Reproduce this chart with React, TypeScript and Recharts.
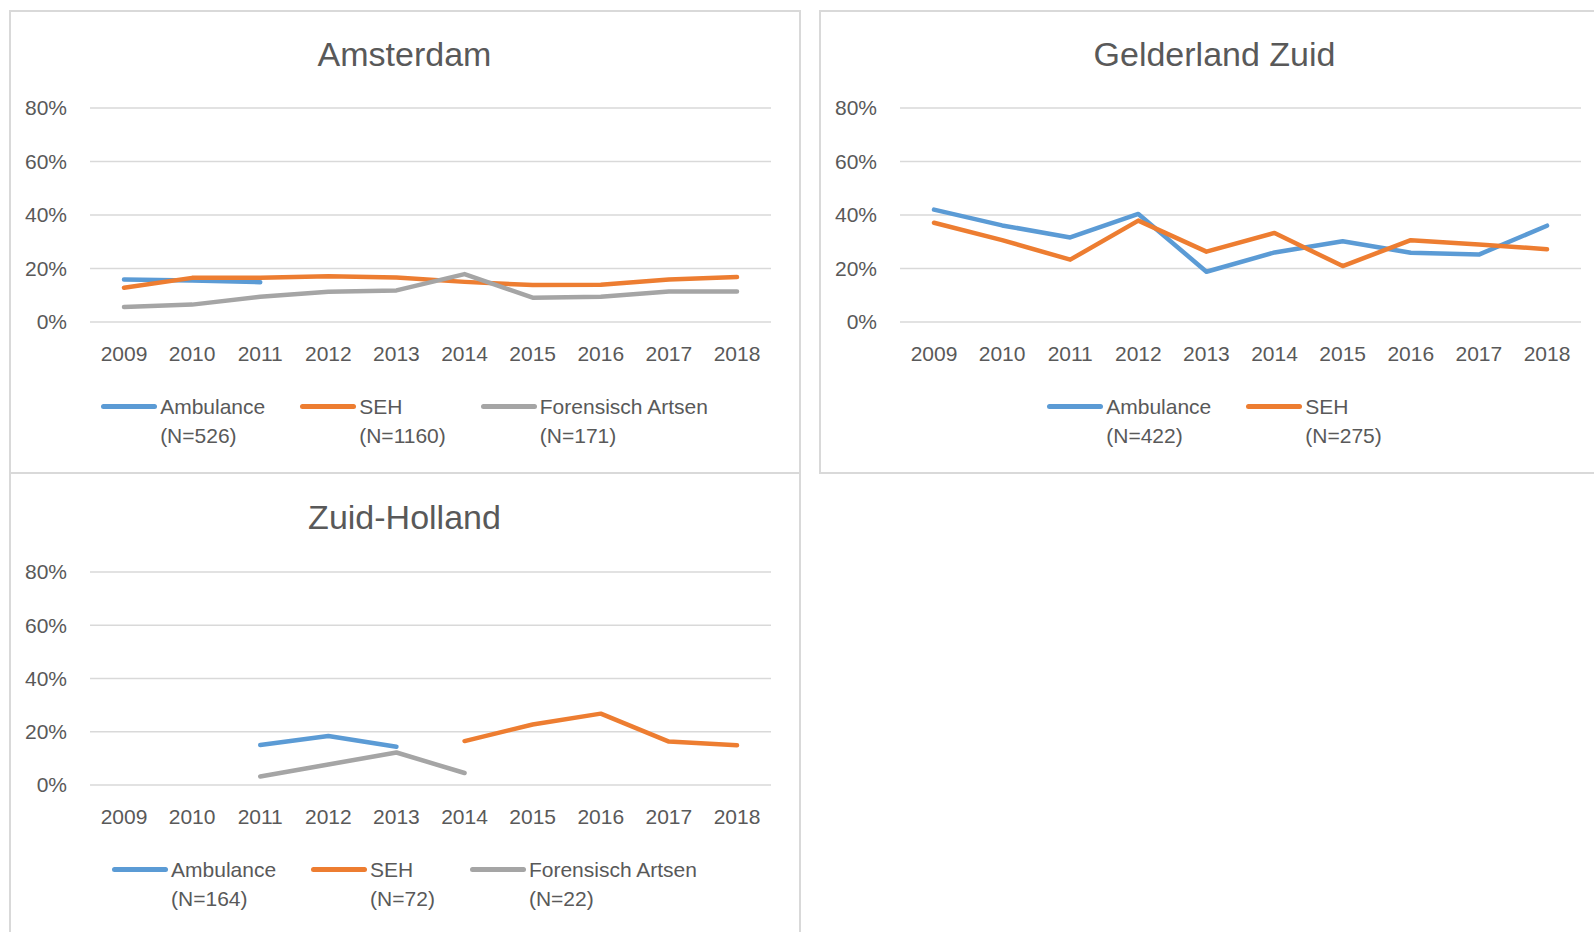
import { LineChart, Line, XAxis, YAxis, CartesianGrid } from 'recharts';

const years = ['2009', '2010', '2011', '2012', '2013', '2014', '2015', '2016', '2017', '2018'];
const yTicks = [0, 20, 40, 60, 80];

const seriesNames = ['Ambulance', 'SEH', 'Forensisch Artsen'];
const seriesColors = ['#5B9BD5', '#ED7D31', '#A5A5A5'];

// Amsterdam (%)
const amsterdamAmbulance = [15.9, 15.5, 14.9, null, null, null, null, null, null, null];
const amsterdamSeh = [12.8, 16.5, 16.5, 17.1, 16.6, 15.0, 13.8, 13.9, 15.9, 16.8];
const amsterdamForensisch = [5.6, 6.5, 9.4, 11.3, 11.8, 17.9, 9.1, 9.4, 11.4, 11.4];
const amsterdamN = [526, 1160, 171];

// Gelderland Zuid (%)
const gelderlandAmbulance = [42.0, 36.1, 31.6, 40.4, 18.8, 26.0, 30.2, 25.9, 25.2, 36.0];
const gelderlandSeh = [37.1, 30.6, 23.3, 37.9, 26.3, 33.3, 20.9, 30.6, 29.0, 27.2];
const gelderlandN = [422, 275];

// Zuid-Holland (%)
const zuidAmbulance = [null, null, 15.0, 18.4, 14.4, null, null, null, null, null];
const zuidSeh = [null, null, null, null, null, 16.5, 22.7, 26.8, 16.3, 14.9];
const zuidForensisch = [null, null, 3.2, 7.7, 12.2, 4.5, null, null, null, null];
const zuidN = [164, 72, 22];

const FONT = '"Liberation Sans", Arial, sans-serif';
const TEXT = '#595959';
const GRID = '#D9D9D9';

type Series = { name: string; n: number; color: string; values: (number | null)[] };

function makeSeries(values: (number | null)[][], ns: number[]): Series[] {
  return values.map((v, i) => ({ name: seriesNames[i], n: ns[i], color: seriesColors[i], values: v }));
}

interface PanelProps {
  x: number;
  y: number;
  w: number;
  h: number;
  title: string;
  series: Series[];
  plotTop: number;
  axisHeight: number;
}

function Panel({ x, y, w, h, title, series, plotTop, axisHeight }: PanelProps) {
  const data = years.map((year, i) => {
    const row: Record<string, string | number | null> = { year };
    series.forEach((s, k) => {
      row['s' + k] = s.values[i];
    });
    return row;
  });

  const tick = { fill: TEXT, fontSize: 21, fontFamily: FONT };

  return (
    <div style={{ position: 'absolute', left: x, top: y, width: w, height: h }}>
      <div
        style={{
          position: 'absolute',
          left: 0,
          top: 24,
          width: w,
          textAlign: 'center',
          fontSize: 34,
          lineHeight: '40px',
          color: TEXT,
          fontFamily: FONT,
        }}
      >
        {title}
      </div>
      <div style={{ position: 'absolute', left: 0, top: 0 }}>
        <LineChart
          width={w}
          height={h}
          data={data}
          margin={{ top: plotTop, right: 29, bottom: 0, left: 1 }}
        >
          <CartesianGrid vertical={false} stroke={GRID} strokeWidth={1.5} />
          <XAxis
            dataKey="year"
            axisLine={false}
            tickLine={false}
            tickSize={0}
            tickMargin={24}
            interval={0}
            padding={{ left: 34, right: 34 }}
            height={axisHeight}
            tick={tick}
          />
          <YAxis
            domain={[0, 80]}
            ticks={yTicks}
            tickFormatter={(v) => `${v}%`}
            axisLine={false}
            tickLine={false}
            tickSize={0}
            tickMargin={23}
            width={80}
            tick={tick}
          />
          {series.map((s, k) => (
            <Line
              key={s.name}
              dataKey={'s' + k}
              name={s.name}
              stroke={s.color}
              strokeWidth={4.5}
              strokeLinecap="round"
              strokeLinejoin="round"
              dot={false}
              activeDot={false}
              isAnimationActive={false}
            />
          ))}
        </LineChart>
      </div>
      <div
        style={{
          position: 'absolute',
          left: 0,
          top: 382,
          width: w,
          display: 'flex',
          justifyContent: 'center',
          gap: 35,
          fontFamily: FONT,
          fontSize: 21,
          lineHeight: '29px',
          color: TEXT,
        }}
      >
        {series.map((s) => (
          <div key={s.name} style={{ display: 'flex', alignItems: 'flex-start' }}>
            <div
              style={{
                width: 56,
                height: 5,
                marginTop: 12,
                borderRadius: 3,
                background: s.color,
              }}
            />
            <div style={{ marginLeft: 3 }}>
              <div>{s.name}</div>
              <div>(N={s.n})</div>
            </div>
          </div>
        ))}
      </div>
    </div>
  );
}

const border = (left: number, top: number, width: number, height: number) => (
  <div
    style={{
      position: 'absolute',
      left,
      top,
      width,
      height,
      boxSizing: 'border-box',
      border: `2px solid ${GRID}`,
    }}
  />
);

export default function App() {
  return (
    <div
      style={{
        position: 'absolute',
        left: 0,
        top: 0,
        width: 1594,
        height: 932,
        overflow: 'hidden',
        background: '#fff',
      }}
    >
      {border(9, 10, 792, 464)}
      {border(819, 10, 792, 464)}
      {border(9, 472, 792, 480)}
      <Panel
        x={9}
        y={10}
        w={791}
        h={463}
        title="Amsterdam"
        series={makeSeries([amsterdamAmbulance, amsterdamSeh, amsterdamForensisch], amsterdamN)}
        plotTop={98}
        axisHeight={151}
      />
      <Panel
        x={819}
        y={10}
        w={791}
        h={463}
        title="Gelderland Zuid"
        series={makeSeries([gelderlandAmbulance, gelderlandSeh], gelderlandN)}
        plotTop={98}
        axisHeight={151}
      />
      <Panel
        x={9}
        y={473}
        w={791}
        h={459}
        title="Zuid-Holland"
        series={makeSeries([zuidAmbulance, zuidSeh, zuidForensisch], zuidN)}
        plotTop={99}
        axisHeight={147}
      />
    </div>
  );
}
